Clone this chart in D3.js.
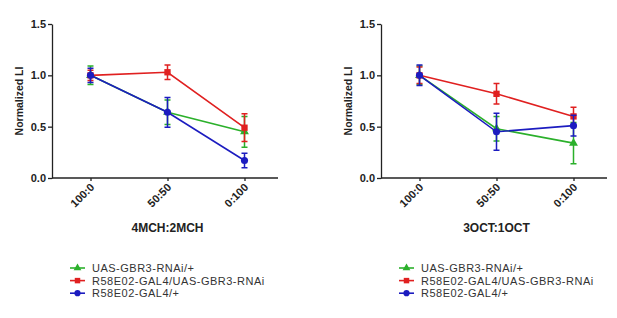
<!DOCTYPE html>
<html>
<head>
<meta charset="UTF-8">
<title>Normalized LI</title>
<script src="https://d3js.org/d3.v7.min.js"></script>
<style>
  body { margin: 0; background: #fff; }
  text { font-family: "Liberation Sans", Arial, sans-serif; }
  .axis path, .axis line { stroke: #222; stroke-width: 1.3; }
  .axis text { font-size: 11px; font-weight: bold; fill: #222; }
</style>
</head>
<body>
<svg id="chart" width="617" height="318"></svg>
<script>
const categories = ["100:0", "50:50", "0:100"];
const yTicks = [0, 0.5, 1.0, 1.5];
const seriesNames = ["UAS-GBR3-RNAi/+", "R58E02-GAL4/UAS-GBR3-RNAi", "R58E02-GAL4/+"];
const seriesColors = ["#2bb02b", "#e02020", "#1c1cc0"];
const seriesSymbols = ["triangle", "square", "circle"];

// panel 1: 4MCH:2MCH
const mchMean = [
  [1.00, 0.64, 0.45],
  [1.00, 1.03, 0.49],
  [1.00, 0.64, 0.17]
];
const mchErr = [
  [0.09, 0.12, 0.15],
  [0.05, 0.07, 0.135],
  [0.07, 0.145, 0.07]
];
// panel 2: 3OCT:1OCT
const octMean = [
  [1.00, 0.48, 0.34],
  [1.00, 0.82, 0.60],
  [1.00, 0.45, 0.51]
];
const octErr = [
  [0.09, 0.12, 0.20],
  [0.08, 0.10, 0.09],
  [0.10, 0.18, 0.10]
];

const svg = d3.select("#chart");

const y = d3.scaleLinear().domain([0, 1.5]).range([178, 24]);

const symbolType = {
  triangle: d3.symbolTriangle,
  square: d3.symbolSquare,
  circle: d3.symbolCircle
};

function drawPanel(x0, title, means, errs) {
  const g = svg.append("g");
  const x = d3.scalePoint().domain(categories).range([x0, x0 + 231]).padding(0.5);

  // y axis
  g.append("g")
    .attr("class", "axis")
    .attr("transform", `translate(${x0},0)`)
    .call(d3.axisLeft(y).tickValues(yTicks).tickFormat(d3.format(".1f")).tickSize(4).tickSizeOuter(0).tickPadding(2));

  // x axis
  const xa = g.append("g")
    .attr("class", "axis")
    .attr("transform", `translate(0,${y(0)})`)
    .call(d3.axisBottom(x).tickSize(3).tickSizeOuter(0));
  xa.select(".domain").attr("d", `M${x0},0H${x0 + 226}`);
  xa.selectAll(".tick text")
    .attr("text-anchor", "end")
    .attr("dy", null)
    .attr("transform", "translate(4,10) rotate(-45)")
    .attr("y", 0).attr("x", 0);

  g.append("text")
    .attr("x", x(categories[1]))
    .attr("y", 232)
    .attr("text-anchor", "middle")
    .attr("font-size", 12)
    .attr("font-weight", "bold")
    .attr("fill", "#222")
    .text(title);

  g.append("text")
    .attr("transform", `translate(${x0 - 29},${y(0.75)}) rotate(-90)`)
    .attr("text-anchor", "middle")
    .attr("font-size", 10.5)
    .attr("font-weight", "bold")
    .attr("fill", "#222")
    .text("Normalized LI");

  const line = d3.line().x((d, i) => x(categories[i])).y(d => y(d));

  means.forEach((m, s) => {
    const c = seriesColors[s];
    const sg = g.append("g");
    sg.append("path")
      .attr("d", line(m))
      .attr("fill", "none")
      .attr("stroke", c)
      .attr("stroke-width", 1.6);

    m.forEach((v, i) => {
      const cx = x(categories[i]);
      const lo = y(v - errs[s][i]), hi = y(v + errs[s][i]);
      sg.append("path")
        .attr("d", `M${cx},${lo}V${hi}M${cx - 3},${lo}H${cx + 3}M${cx - 3},${hi}H${cx + 3}`)
        .attr("fill", "none")
        .attr("stroke", c)
        .attr("stroke-width", 1.5);
      sg.append("path")
        .attr("transform", `translate(${cx},${y(v)})`)
        .attr("d", d3.symbol().type(symbolType[seriesSymbols[s]]).size(seriesSymbols[s] === "triangle" ? 34 : 40)())
        .attr("fill", c);
    });
  });

  // legend
  const lg = g.append("g");
  seriesNames.forEach((name, s) => {
    const ly = 268 + s * 12.6;
    const lx = x0 + 18;
    lg.append("line")
      .attr("x1", lx).attr("x2", lx + 15)
      .attr("y1", ly).attr("y2", ly)
      .attr("stroke", seriesColors[s]).attr("stroke-width", 1.6);
    lg.append("path")
      .attr("transform", `translate(${lx + 7.5},${ly})`)
      .attr("d", d3.symbol().type(symbolType[seriesSymbols[s]]).size(seriesSymbols[s] === "triangle" ? 26 : 30)())
      .attr("fill", seriesColors[s]);
    lg.append("text")
      .attr("x", lx + 22)
      .attr("y", ly + 4)
      .attr("font-size", 11)
      .attr("letter-spacing", 0.5)
      .attr("fill", "#333")
      .text(name);
  });
}

drawPanel(52, "4MCH:2MCH", mchMean, mchErr);
drawPanel(381, "3OCT:1OCT", octMean, octErr);
</script>
</body>
</html>
